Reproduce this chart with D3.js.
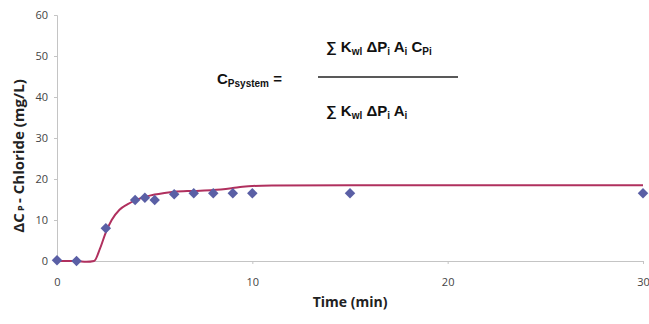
<!DOCTYPE html>
<html>
<head>
<meta charset="utf-8">
<script src="https://cdn.jsdelivr.net/npm/d3@7"></script>
<style>
  body { margin: 0; background: #fff; }
  svg { display: block; }
  .tick text { font-family: "Open Sans", sans-serif; font-size: 11px; fill: #444; }
</style>
</head>
<body>
<svg width="649" height="324"></svg>
<script>
// measured points
var obsTime = [0, 1, 2.5, 4, 4.5, 5, 6, 7, 8, 9, 10, 15, 30];
var obsConc = [0.2, 0, 8, 14.9, 15.4, 14.9, 16.3, 16.5, 16.5, 16.5, 16.5, 16.5, 16.5];

// model curve
var fitTime = [0, 1, 1.5, 1.9, 2.2, 2.5, 2.8, 3.2, 3.6, 4, 4.5, 5, 5.5, 6, 7, 8, 9, 9.5, 10, 11, 15, 20, 30];
var fitConc = [0, 0, -0.2, 0, 3, 7, 10, 12.5, 13.8, 14.8, 15.6, 16.2, 16.6, 16.9, 17.1, 17.3, 17.8, 18.1, 18.3, 18.4, 18.5, 18.5, 18.5];

var xTicks = [0, 10, 20, 30];
var yTicks = [0, 10, 20, 30, 40, 50, 60];

var svg = d3.select("svg");

var x = d3.scaleLinear().domain([0, 30]).range([57, 643]);
var y = d3.scaleLinear().domain([0, 60]).range([261, 15]);

var xAxis = svg.append("g")
    .attr("transform", "translate(0," + y(0) + ")")
    .call(d3.axisBottom(x).tickValues(xTicks).tickSize(3).tickPadding(14));
var yAxis = svg.append("g")
    .attr("transform", "translate(" + x(0) + ",0)")
    .call(d3.axisLeft(y).tickValues(yTicks).tickSize(3).tickPadding(6));

[xAxis, yAxis].forEach(function(a) {
    a.select(".domain").attr("stroke", "#c4c4c4");
    a.selectAll(".tick line").attr("stroke", "#c4c4c4");
});
xAxis.selectAll(".tick").filter(function(d) { return d === 0; }).select("line").remove();

// model line
var fit = fitTime.map(function(t, i) { return [t, fitConc[i]]; });
svg.append("path")
    .datum(fit)
    .attr("fill", "none")
    .attr("stroke", "#b0305e")
    .attr("stroke-width", 2)
    .attr("d", d3.line()
        .x(function(d) { return x(d[0]); })
        .y(function(d) { return y(d[1]); })
        .curve(d3.curveMonotoneX));

// diamonds
svg.append("g").selectAll("path")
    .data(obsTime)
    .enter().append("path")
    .attr("d", d3.symbol().type(d3.symbolDiamond2).size(70))
    .attr("transform", function(d, i) { return "translate(" + x(d) + "," + y(obsConc[i]) + ")"; })
    .attr("fill", "#5a5fa5");

// axis titles
svg.append("text")
    .attr("x", 350).attr("y", 307)
    .attr("text-anchor", "middle")
    .style("font-family", "'Open Sans', sans-serif")
    .style("font-weight", "bold")
    .style("font-size", "14px")
    .attr("fill", "#222")
    .text("Time (min)");

var yl = svg.append("text")
    .attr("transform", "translate(24,156) rotate(-90)")
    .attr("text-anchor", "middle")
    .style("font-family", "'Open Sans', sans-serif")
    .style("font-weight", "bold")
    .style("font-size", "15px")
    .attr("fill", "#222");
yl.append("tspan").text("ΔC");
yl.append("tspan").style("font-size", "9px").text(" P ");
yl.append("tspan").text("- Chloride (mg/L)");

// formula
var f = "Liberation Sans, Arial, sans-serif";
function eq(xp, yp, parts) {
    var t = svg.append("text").attr("x", xp).attr("y", yp)
        .style("font-family", f).style("font-weight", "bold")
        .style("font-size", "15px").attr("fill", "#111");
    parts.forEach(function(p) {
        t.append("tspan").style("font-size", p[1] ? "10px" : "15px")
            .attr("dy", p[1] ? 3 : (p[2] ? -3 : 0)).text(p[0]);
    });
}
eq(326, 52, [["∑ K"], ["wl", 1], [" ΔP", 0, 1], ["i", 1], [" A", 0, 1], ["i", 1], [" C", 0, 1], ["Pi", 1]]);
eq(217, 84, [["C"], ["Psystem", 1], [" =", 0, 1]]);
eq(326, 116, [["∑ K"], ["wl", 1], [" ΔP", 0, 1], ["i", 1], [" A", 0, 1], ["i", 1]]);
svg.append("line")
    .attr("x1", 318).attr("x2", 458).attr("y1", 77).attr("y2", 77)
    .attr("stroke", "#222").attr("stroke-width", 1.5);
</script>
</body>
</html>
